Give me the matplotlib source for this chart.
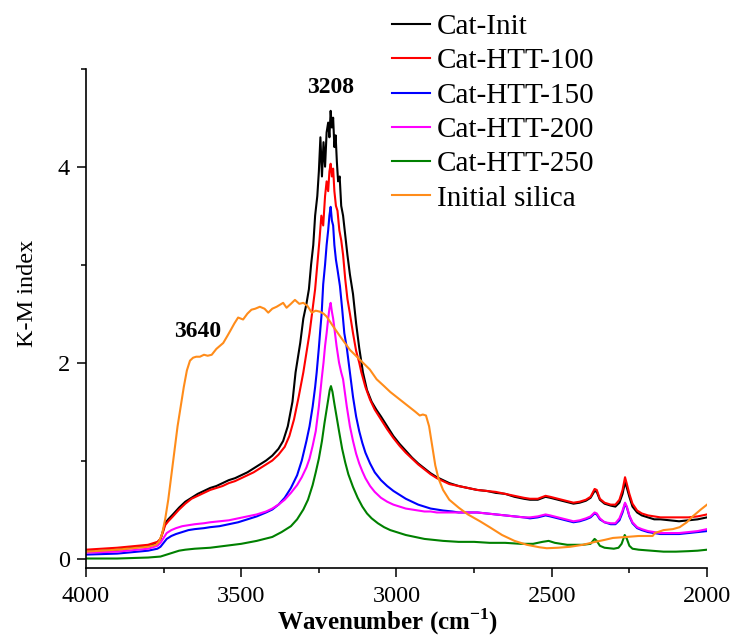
import matplotlib
matplotlib.use("Agg")
import matplotlib.pyplot as plt
from matplotlib.ticker import MultipleLocator

plt.rcParams['font.family'] = ['Liberation Serif', 'DejaVu Serif']
plt.rcParams['mathtext.fontset'] = 'custom'
plt.rcParams['mathtext.rm'] = 'Liberation Serif'
plt.rcParams['mathtext.bf'] = 'Liberation Serif:bold'

# DRIFTS spectra in Kubelka-Munk units, (wavenumber, K-M) pairs
cat_init = [(4000,0.07),(3900,0.09),(3800,0.13),(3770,0.16),(3760,0.2),(3752,0.28),(3745,0.36),(3735,0.4),
    (3720,0.45),(3700,0.52),(3680,0.58),(3660,0.62),(3640,0.66),(3620,0.69),(3600,0.72),(3580,0.74),(3560,0.77),
    (3540,0.8),(3520,0.82),(3500,0.85),(3480,0.88),(3460,0.92),(3440,0.96),(3420,1.0),(3400,1.05),(3380,1.12),
    (3365,1.2),(3350,1.35),(3335,1.6),(3325,1.9),(3310,2.2),(3300,2.45),(3290,2.6),(3282,2.75),(3275,3.0),
    (3268,3.2),(3262,3.5),(3255,3.7),(3250,3.95),(3245,4.3),(3240,3.9),(3235,4.25),(3230,4.0),(3225,4.35),
    (3220,4.45),(3216,4.3),(3212,4.57),(3208,4.4),(3204,4.5),(3200,4.2),(3196,4.32),(3192,4.05),(3188,3.85),
    (3183,3.9),(3178,3.6),(3172,3.5),(3165,3.3),(3158,3.1),(3150,2.9),(3140,2.7),(3130,2.4),(3120,2.15),
    (3108,1.9),(3095,1.72),(3080,1.6),(3065,1.52),(3050,1.45),(3030,1.35),(3010,1.25),(2990,1.17),(2970,1.1),
    (2950,1.03),(2930,0.97),(2910,0.92),(2890,0.87),(2870,0.83),(2850,0.8),(2830,0.77),(2800,0.74),(2770,0.72),
    (2740,0.7),(2710,0.69),(2680,0.67),(2650,0.66),(2620,0.63),(2590,0.61),(2570,0.6),(2545,0.6),(2520,0.63),
    (2505,0.62),(2480,0.6),(2455,0.58),(2430,0.56),(2410,0.57),(2390,0.59),(2375,0.62),(2362,0.69),(2355,0.68),
    (2345,0.6),(2330,0.56),(2310,0.54),(2295,0.53),(2282,0.57),(2272,0.66),(2264,0.78),(2258,0.72),(2250,0.63),
    (2240,0.53),(2225,0.47),(2210,0.44),(2190,0.42),(2170,0.4),(2150,0.4),(2120,0.39),(2090,0.38),(2060,0.39),
    (2030,0.4),(2000,0.42)]

cat_htt_100 = [(4000,0.09),(3900,0.11),(3800,0.14),(3770,0.17),(3760,0.2),(3752,0.27),(3745,0.34),(3735,0.38),
    (3720,0.43),(3700,0.5),(3680,0.56),(3660,0.61),(3640,0.64),(3620,0.67),(3600,0.7),(3580,0.72),(3560,0.74),
    (3540,0.77),(3520,0.79),(3500,0.82),(3480,0.85),(3460,0.88),(3440,0.92),(3420,0.96),(3400,1.0),(3380,1.06),
    (3360,1.14),(3345,1.25),(3330,1.42),(3315,1.65),(3300,1.9),(3290,2.1),(3280,2.3),(3270,2.55),(3262,2.75),
    (3255,3.0),(3248,3.25),(3242,3.5),(3236,3.4),(3230,3.7),(3225,3.85),(3220,3.75),(3216,3.95),(3212,4.03),
    (3208,3.9),(3204,3.98),(3200,3.75),(3195,3.6),(3190,3.55),(3184,3.35),(3178,3.25),(3172,3.1),(3165,2.85),
    (3158,2.65),(3150,2.5),(3140,2.3),(3130,2.12),(3120,2.0),(3113,1.9),(3100,1.75),(3085,1.62),(3070,1.52),
    (3050,1.42),(3030,1.32),(3010,1.23),(2990,1.15),(2970,1.08),(2950,1.02),(2930,0.96),(2910,0.91),(2890,0.86),
    (2870,0.82),(2850,0.79),(2830,0.76),(2800,0.74),(2770,0.72),(2740,0.7),(2710,0.69),(2680,0.68),(2650,0.66),
    (2620,0.64),(2590,0.62),(2570,0.61),(2545,0.61),(2520,0.64),(2505,0.63),(2480,0.61),(2455,0.59),(2430,0.57),
    (2410,0.58),(2390,0.6),(2375,0.63),(2362,0.71),(2355,0.7),(2345,0.61),(2330,0.57),(2310,0.55),(2295,0.55),
    (2282,0.6),(2272,0.7),(2264,0.83),(2258,0.76),(2250,0.66),(2240,0.56),(2225,0.49),(2210,0.46),(2190,0.44),
    (2170,0.43),(2150,0.42),(2120,0.42),(2090,0.42),(2060,0.42),(2030,0.43),(2000,0.45)]

cat_htt_150 = [(4000,0.04),(3900,0.05),(3800,0.08),(3770,0.1),(3760,0.12),(3750,0.16),(3740,0.2),(3725,0.23),
    (3710,0.25),(3690,0.27),(3670,0.29),(3650,0.3),(3620,0.31),(3600,0.32),(3570,0.33),(3540,0.35),(3510,0.37),
    (3480,0.4),(3450,0.43),(3420,0.47),(3400,0.5),(3380,0.55),(3360,0.62),(3340,0.72),(3320,0.85),(3305,1.0),
    (3290,1.2),(3280,1.35),(3270,1.55),(3262,1.75),(3257,1.9),(3250,2.15),(3245,2.35),(3241,2.5),(3236,2.8),
    (3230,3.0),(3225,3.2),(3220,3.35),(3216,3.5),(3212,3.59),(3208,3.45),(3204,3.4),(3200,3.2),(3195,3.05),
    (3190,2.95),(3182,2.78),(3175,2.55),(3168,2.3),(3160,2.15),(3150,1.9),(3140,1.65),(3130,1.45),(3120,1.3),
    (3110,1.18),(3100,1.08),(3085,0.97),(3070,0.88),(3050,0.8),(3030,0.74),(3010,0.69),(2990,0.65),(2970,0.61),
    (2950,0.58),(2930,0.55),(2910,0.53),(2890,0.51),(2870,0.5),(2850,0.49),(2820,0.48),(2800,0.47),(2770,0.47),
    (2740,0.47),(2710,0.46),(2680,0.45),(2650,0.44),(2620,0.43),(2590,0.42),(2570,0.41),(2545,0.42),(2520,0.44),
    (2505,0.43),(2480,0.41),(2455,0.39),(2430,0.37),(2410,0.38),(2390,0.4),(2375,0.42),(2362,0.46),(2355,0.45),
    (2345,0.4),(2330,0.37),(2310,0.35),(2295,0.35),(2282,0.39),(2272,0.47),(2264,0.56),(2258,0.52),(2250,0.43),
    (2240,0.36),(2225,0.31),(2210,0.29),(2190,0.27),(2170,0.26),(2150,0.25),(2120,0.25),(2090,0.25),(2060,0.26),
    (2030,0.27),(2000,0.28)]

cat_htt_200 = [(4000,0.06),(3900,0.07),(3800,0.1),(3770,0.13),(3760,0.16),(3750,0.21),(3740,0.26),(3725,0.29),
    (3710,0.31),(3690,0.33),(3670,0.34),(3650,0.35),(3620,0.36),(3600,0.37),(3570,0.38),(3540,0.39),(3510,0.41),
    (3480,0.43),(3450,0.45),(3420,0.48),(3400,0.51),(3380,0.55),(3360,0.6),(3340,0.67),(3320,0.75),(3305,0.83),
    (3290,0.93),(3280,1.02),(3270,1.15),(3260,1.3),(3250,1.55),(3241,1.83),(3235,2.0),(3230,2.17),(3225,2.3),
    (3220,2.45),(3216,2.55),(3212,2.61),(3208,2.52),(3204,2.45),(3200,2.35),(3193,2.17),(3185,2.0),(3178,1.9),
    (3172,1.83),(3160,1.55),(3150,1.35),(3140,1.2),(3130,1.07),(3120,0.97),(3110,0.89),(3100,0.82),(3085,0.74),
    (3070,0.68),(3050,0.62),(3030,0.58),(3010,0.55),(2990,0.53),(2970,0.51),(2950,0.5),(2930,0.49),(2910,0.48),
    (2890,0.48),(2870,0.47),(2850,0.47),(2820,0.47),(2800,0.47),(2770,0.47),(2740,0.47),(2710,0.46),(2680,0.45),
    (2650,0.44),(2620,0.43),(2590,0.42),(2570,0.42),(2545,0.43),(2520,0.45),(2505,0.44),(2480,0.42),(2455,0.4),
    (2430,0.38),(2410,0.39),(2390,0.41),(2375,0.43),(2362,0.47),(2355,0.46),(2345,0.41),(2330,0.37),(2310,0.36),
    (2295,0.36),(2282,0.41),(2272,0.49),(2264,0.57),(2258,0.53),(2250,0.44),(2240,0.37),(2225,0.32),(2210,0.3),
    (2190,0.28),(2170,0.27),(2150,0.26),(2120,0.26),(2090,0.26),(2060,0.27),(2030,0.28),(2000,0.3)]

cat_htt_250 = [(4000,0.0),(3900,0.0),(3800,0.01),(3760,0.02),(3740,0.04),(3720,0.06),(3700,0.08),(3680,0.09),
    (3650,0.1),(3600,0.11),(3550,0.13),(3500,0.15),(3450,0.18),(3400,0.22),(3370,0.27),(3340,0.33),(3320,0.4),
    (3300,0.5),(3285,0.6),(3270,0.75),(3260,0.88),(3250,1.02),(3240,1.2),(3232,1.38),(3225,1.52),(3220,1.62),
    (3215,1.72),(3211,1.76),(3206,1.7),(3200,1.58),(3193,1.45),(3185,1.3),(3175,1.12),(3165,0.98),(3155,0.86),
    (3140,0.73),(3125,0.62),(3110,0.53),(3095,0.46),(3080,0.41),(3060,0.36),(3040,0.32),(3020,0.29),(3000,0.27),
    (2970,0.24),(2940,0.22),(2910,0.2),(2880,0.19),(2850,0.18),(2800,0.17),(2750,0.17),(2700,0.16),(2650,0.16),
    (2600,0.15),(2560,0.15),(2530,0.17),(2510,0.18),(2490,0.16),(2450,0.14),(2400,0.14),(2375,0.15),(2362,0.2),
    (2355,0.18),(2345,0.13),(2330,0.11),(2300,0.1),(2285,0.11),(2275,0.15),(2265,0.24),(2258,0.2),(2250,0.13),
    (2240,0.1),(2220,0.09),(2180,0.08),(2140,0.07),(2100,0.07),(2060,0.075),(2030,0.08),(2000,0.09)]

initial_silica = [(4000,0.07),(3900,0.09),(3800,0.12),(3775,0.14),(3765,0.17),(3755,0.25),(3745,0.4),(3735,0.6),
    (3725,0.85),(3715,1.1),(3705,1.35),(3695,1.55),(3685,1.75),(3675,1.92),(3665,2.02),(3655,2.05),(3645,2.06),
    (3633,2.06),(3620,2.08),(3608,2.07),(3595,2.08),(3580,2.14),(3558,2.2),(3545,2.27),(3536,2.32),(3522,2.4),
    (3510,2.46),(3494,2.44),(3480,2.5),(3467,2.54),(3455,2.55),(3440,2.57),(3425,2.55),(3413,2.51),(3400,2.55),
    (3386,2.57),(3365,2.61),(3354,2.56),(3340,2.6),(3327,2.64),(3313,2.6),(3300,2.61),(3287,2.58),(3273,2.51),
    (3260,2.53),(3247,2.52),(3235,2.5),(3225,2.47),(3204,2.37),(3182,2.27),(3150,2.13),(3118,2.03),(3086,1.93),
    (3064,1.83),(3040,1.76),(3020,1.7),(3000,1.65),(2980,1.6),(2960,1.55),(2940,1.5),(2925,1.46),(2915,1.47),
    (2905,1.46),(2895,1.35),(2885,1.15),(2875,0.95),(2865,0.82),(2850,0.7),(2830,0.6),(2800,0.52),(2770,0.45),
    (2731,0.38),(2700,0.32),(2660,0.24),(2620,0.18),(2580,0.14),(2540,0.115),(2516,0.105),(2480,0.11),(2440,0.12),
    (2400,0.14),(2360,0.17),(2330,0.19),(2303,0.21),(2260,0.22),(2220,0.23),(2194,0.23),(2175,0.23),(2168,0.26),
    (2140,0.29),(2110,0.3),(2088,0.32),(2065,0.37),(2046,0.43),(2020,0.5),(2000,0.55)]

series = [
    ('Cat-Init', cat_init, 'black'),
    ('Cat-HTT-100', cat_htt_100, '#ff0000'),
    ('Cat-HTT-150', cat_htt_150, '#0000ff'),
    ('Cat-HTT-200', cat_htt_200, '#ff00ff'),
    ('Cat-HTT-250', cat_htt_250, '#008000'),
    ('Initial silica', initial_silica, '#ff8c1a'),
]

fig = plt.figure(figsize=(7.36, 6.41), dpi=100)
ax = fig.add_axes([0.1168, 0.1134, 0.8438, 0.7794])

for label, pts, color in series:
    wn = [p[0] for p in pts]
    km = [p[1] for p in pts]
    ax.plot(wn, km, color=color, lw=1.5, label=label)

ax.set_xlim(4000, 2000)
ax.set_ylim(-0.1, 5.0)
ax.xaxis.set_major_locator(MultipleLocator(500))
ax.xaxis.set_minor_locator(MultipleLocator(250))
ax.yaxis.set_major_locator(MultipleLocator(2))
ax.yaxis.set_minor_locator(MultipleLocator(1))
ax.tick_params(which='major', direction='out', length=6.5, width=1.1, labelsize=17.5)
ax.tick_params(axis='x', which='major', pad=6.5)
ax.tick_params(axis='y', which='major', pad=5)
ax.tick_params(which='minor', direction='out', length=3.6, width=1.1)
for side in ['top', 'right']:
    ax.spines[side].set_visible(False)
for side in ['left', 'bottom']:
    ax.spines[side].set_linewidth(1.2)

ax.set_xlabel(r'Wavenumber (cm$^{\mathbf{-1}}$)', fontsize=18, fontweight='bold', labelpad=-1)
ax.xaxis.set_label_coords(0.485, -0.077)
ax.set_ylabel('K-M index', fontsize=17.5)
ax.yaxis.set_label_coords(-0.078, 0.551)

ax.text(3212, 4.81, '3208', fontsize=17, fontweight='bold', ha='center', va='center')
ax.text(3640, 2.32, '3640', fontsize=17, fontweight='bold', ha='center', va='center')

fig.legend(loc='upper left', bbox_to_anchor=(0.5326, 0.9785), frameon=False, fontsize=21,
           handlelength=1.3, handletextpad=0.24, labelspacing=0.27, borderpad=0, borderaxespad=0)

fig.savefig('out.png', dpi=100)
